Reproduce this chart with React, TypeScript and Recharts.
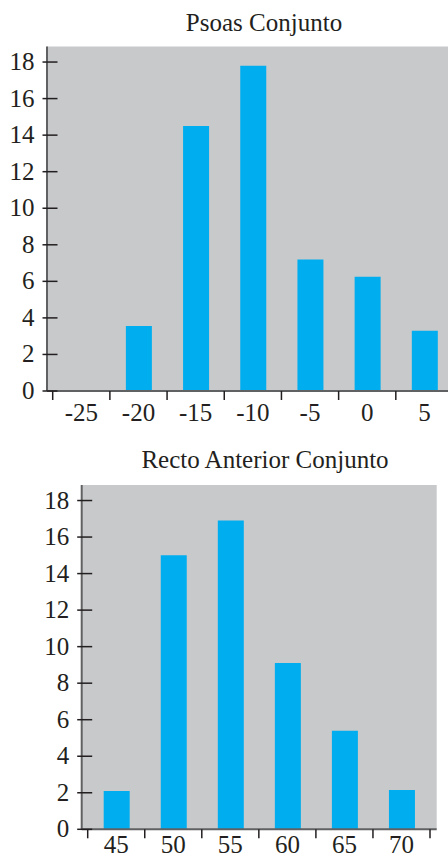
import { BarChart, Bar, XAxis, YAxis, CartesianGrid } from "recharts";

// Psoas histogram (bins labelled by their centre)
const psoasBins = ["-25", "-20", "-15", "-10", "-5", "0", "5"];
const psoasCounts = [0, 3.55, 14.5, 17.8, 7.2, 6.25, 3.3];

// Recto anterior histogram
const rectoBins = ["45", "50", "55", "60", "65", "70"];
const rectoCounts = [2.1, 15.0, 16.9, 9.1, 5.4, 2.15];

const yTicks = [0, 2, 4, 6, 8, 10, 12, 14, 16, 18];
const Y_MAX = 18.85;

const INK = "#231f20";
const FRAME = "#606163";
const PANEL = "#c8c9cb";
const BAR = "#00aeef";
const FONT = '"Liberation Serif", "Times New Roman", serif';
const FONT_SIZE = 25;

interface PanelProps {
  bins: string[];
  counts: number[];
  top: number;
  width: number;
  height: number;
  marginTop: number;
  marginRight: number;
  yAxisWidth: number;
  xAxisHeight: number;
  padLeft: number;
  padRight: number;
  labelDy: number;
}

function YTick(props: any) {
  const { x, y, payload } = props;
  return (
    <g>
      <line x1={x - 4.5} x2={x + 10.5} y1={y} y2={y} stroke={INK} strokeWidth={1.5} />
      <text
        x={x - 12.5}
        y={y + 8}
        textAnchor="end"
        fontFamily={FONT}
        fontSize={FONT_SIZE}
        fill={INK}
      >
        {payload.value}
      </text>
    </g>
  );
}

function makeXTick(band: number, count: number, labelDy: number) {
  return function XTick(props: any) {
    const { x, y, payload, index } = props;
    const left = x - band / 2;
    const right = x + band / 2;
    return (
      <g>
        <line x1={left} x2={left} y1={y} y2={y + 9} stroke={INK} strokeWidth={1.5} />
        {index === count - 1 && (
          <line x1={right} x2={right} y1={y} y2={y + 9} stroke={INK} strokeWidth={1.5} />
        )}
        <text
          x={x}
          y={y + labelDy}
          textAnchor="middle"
          fontFamily={FONT}
          fontSize={FONT_SIZE}
          fill={INK}
        >
          {payload.value}
        </text>
      </g>
    );
  };
}

function HistPanel({
  bins,
  counts,
  top,
  width,
  height,
  marginTop,
  marginRight,
  yAxisWidth,
  xAxisHeight,
  padLeft,
  padRight,
  labelDy,
}: PanelProps) {
  const data = bins.map((bin, i) => ({ bin, count: counts[i] }));
  const plotWidth = width - marginRight - yAxisWidth;
  const band = (plotWidth - padLeft - padRight) / bins.length;
  const frame = { stroke: FRAME, strokeWidth: 2 };

  return (
    <div style={{ position: "absolute", left: 0, top }}>
      <BarChart
        width={width}
        height={height}
        data={data}
        margin={{ top: marginTop, right: marginRight, bottom: 0, left: 0 }}
      >
        <CartesianGrid fill={PANEL} fillOpacity={1} horizontal={false} vertical={false} />
        <XAxis
          dataKey="bin"
          interval={0}
          height={xAxisHeight}
          padding={{ left: padLeft, right: padRight }}
          tickSize={0}
          tickMargin={0}
          tickLine={false}
          axisLine={frame}
          tick={makeXTick(band, bins.length, labelDy)}
        />
        <XAxis
          xAxisId="frame"
          dataKey="bin"
          orientation="top"
          height={0}
          tick={false}
          tickLine={false}
          axisLine={frame}
        />
        <YAxis
          type="number"
          domain={[0, Y_MAX]}
          ticks={yTicks}
          interval={0}
          width={yAxisWidth}
          tickSize={0}
          tickMargin={0}
          tickLine={false}
          axisLine={frame}
          tick={<YTick />}
        />
        <YAxis
          yAxisId="frame"
          orientation="right"
          type="number"
          domain={[0, Y_MAX]}
          width={0}
          tick={false}
          tickLine={false}
          axisLine={{ stroke: "#3a3a3c", strokeWidth: 2 }}
        />
        <Bar dataKey="count" fill={BAR} barSize={26} isAnimationActive={false} />
      </BarChart>
    </div>
  );
}

export default function App() {
  return (
    <div
      style={{
        position: "absolute",
        left: 0,
        top: 0,
        width: 448,
        height: 858,
        overflow: "hidden",
        background: "#ffffff",
      }}
    >
      <HistPanel
        bins={psoasBins}
        counts={psoasCounts}
        top={0}
        width={470}
        height={430}
        marginTop={46.5}
        marginRight={11}
        yAxisWidth={47}
        xAxisHeight={39}
        padLeft={5.7}
        padRight={6}
        labelDy={29.5}
      />
      <HistPanel
        bins={rectoBins}
        counts={rectoCounts}
        top={440}
        width={448}
        height={418}
        marginTop={45}
        marginRight={11.3}
        yAxisWidth={81.7}
        xAxisHeight={28.7}
        padLeft={6}
        padRight={6.7}
        labelDy={23.5}
      />
      <svg
        width={448}
        height={858}
        style={{ position: "absolute", left: 0, top: 0, pointerEvents: "none" }}
      >
        <text x={264} y={31} textAnchor="middle" fontFamily={FONT} fontSize={FONT_SIZE} fill={INK}>
          Psoas Conjunto
        </text>
        <text x={265} y={468.3} textAnchor="middle" fontFamily={FONT} fontSize={FONT_SIZE} fill={INK}>
          Recto Anterior Conjunto
        </text>
      </svg>
    </div>
  );
}
